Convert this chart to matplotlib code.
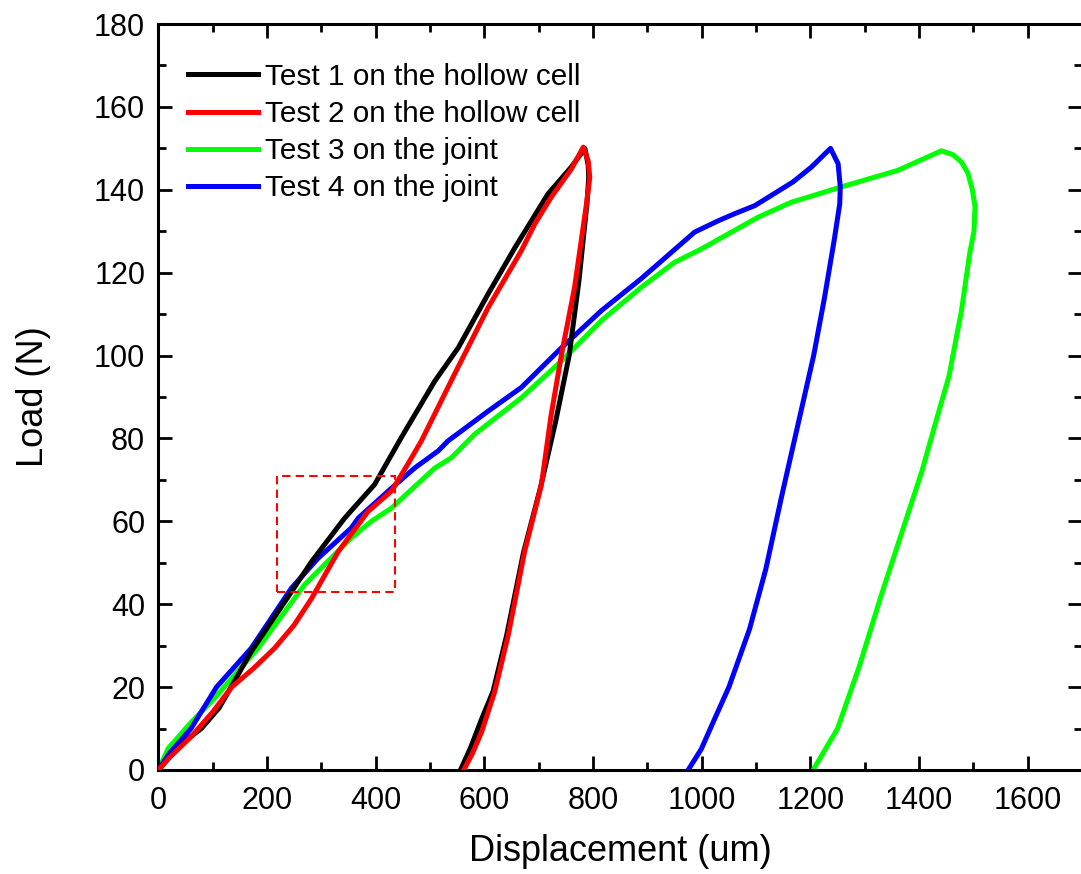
import matplotlib
matplotlib.use("Agg")
import matplotlib.pyplot as plt
from matplotlib.lines import Line2D
from matplotlib.patches import Rectangle
from matplotlib.ticker import MultipleLocator

plt.rcParams["font.family"] = ["Liberation Sans", "DejaVu Sans"]

# Test 1 on the hollow cell (loading then unloading)
test1_disp = [0, 20, 55, 79, 112, 171, 245, 282, 343, 398, 447, 509, 552, 607, 656,
              717, 760, 785, 791, 792, 789, 774, 756, 731, 703, 672, 641, 616, 594,
              575, 556]
test1_load = [0, 3, 7.6, 10, 15, 28.6, 43, 50.3, 60.8, 68.9, 80.2, 93.9, 101.9, 114.9,
              126, 139, 145.5, 150, 146, 143, 137, 118, 100, 84, 68, 52.5, 32.5, 19,
              12, 5.5, 0]

# Test 2 on the hollow cell
test2_disp = [0, 20, 60, 100, 135, 175, 214, 250, 282, 331, 386, 429, 460, 484, 545,
              607, 668, 693, 723, 760, 782, 791, 794, 788, 766, 742, 723, 705, 674,
              644, 619, 595, 578, 562]
test2_load = [0, 3, 8, 14, 20, 24.5, 29.4, 35, 41.4, 52.7, 62.4, 67.3, 74, 79.4, 95.5,
              111.6, 125.3, 131.8, 138.2, 145, 150.3, 147, 143, 136.7, 116.5, 100.3,
              85.8, 68.9, 52.7, 32.6, 18.9, 9.2, 4, 0]

# Test 3 on the joint
test3_disp = [0, 18, 61, 97.5, 183.5, 269, 355, 392, 429, 509, 539, 582, 668, 742, 815,
              889, 950, 999, 1104, 1165, 1257, 1361, 1441, 1462, 1478, 1490, 1498, 1503,
              1501, 1493, 1478, 1455, 1433, 1405, 1370, 1330, 1290, 1250, 1205]
test3_load = [0, 5.2, 11.6, 16.5, 29.4, 44.7, 56, 60, 63.2, 72.9, 75.3, 81, 89.8, 98.7,
              108.4, 116.5, 122.5, 125.7, 133.4, 137, 140.7, 144.7, 149.4, 148.5, 146.7,
              144, 140, 136, 130, 124.5, 110.8, 95, 85, 72, 58, 42, 25, 10, 0]

# Test 4 on the joint
test4_disp = [0, 20, 60, 107, 171, 245, 294, 355, 368, 429, 472, 515, 533, 607, 668,
              742, 815, 889, 987, 1030, 1060, 1098, 1168, 1202, 1237, 1251, 1255, 1254,
              1244, 1226, 1206, 1180, 1147, 1118, 1088, 1050, 1024, 999, 975]
test4_load = [0, 4, 10, 20, 29.4, 43.9, 51.1, 58.4, 60.8, 68, 72.9, 77, 79.4, 86.6,
              92.3, 101.9, 110.8, 118.6, 129.8, 132.5, 134.2, 136.2, 141.9, 145.5, 150,
              146.3, 140.7, 136.6, 128, 114, 100, 85, 66, 48.5, 34, 20, 12.4, 5, 0]

labels = ["Test 1 on the hollow cell", "Test 2 on the hollow cell",
          "Test 3 on the joint", "Test 4 on the joint"]
colors = ["#000000", "#ff0000", "#00ff00", "#0000ff"]

# highlighted region (dashed box)
box_x, box_y, box_w, box_h = 218, 43, 217, 28

fig = plt.figure(figsize=(10.81, 8.74), dpi=100)
ax = fig.add_axes([0.1465, 0.119, 0.8545, 0.8535])

series = [(test1_disp, test1_load), (test2_disp, test2_load),
          (test3_disp, test3_load), (test4_disp, test4_load)]
zorders = [4, 5, 2, 3]
for (xs, ys), c, z in zip(series, colors, zorders):
    ax.plot(xs, ys, color=c, lw=3.6, zorder=z, solid_joinstyle="round")

ax.add_patch(Rectangle((box_x, box_y), box_w, box_h, fill=False, edgecolor="#ff0000",
                       lw=1.5, linestyle=(0, (4, 2.5)), zorder=6))

ax.set_xlim(0, 1700)
ax.set_ylim(0, 180)
ax.xaxis.set_major_locator(MultipleLocator(200))
ax.xaxis.set_minor_locator(MultipleLocator(100))
ax.yaxis.set_major_locator(MultipleLocator(20))
ax.yaxis.set_minor_locator(MultipleLocator(10))
ax.tick_params(which="both", direction="in", top=True, right=True, width=2)
ax.tick_params(which="major", length=10)
ax.tick_params(which="minor", length=5.5)
ax.tick_params(axis="x", which="major", labelsize=22, pad=11.5)
ax.tick_params(axis="y", which="major", labelsize=22, pad=9.5)
for sp in ax.spines.values():
    sp.set_linewidth(2.2)

ax.set_xlabel("Displacement (um)", fontsize=26, labelpad=13)
ax.set_ylabel("Load (N)", fontsize=26, labelpad=31)

handles = [Line2D([], [], color=c, lw=3.6) for c in colors]
ax.legend(handles, labels, loc="upper left", bbox_to_anchor=(0.032, 0.948),
          frameon=False, fontsize=21.4, handlelength=2.35, handletextpad=0.25,
          labelspacing=0.31, borderpad=0, borderaxespad=0)

fig.savefig("out.png", dpi=100)
